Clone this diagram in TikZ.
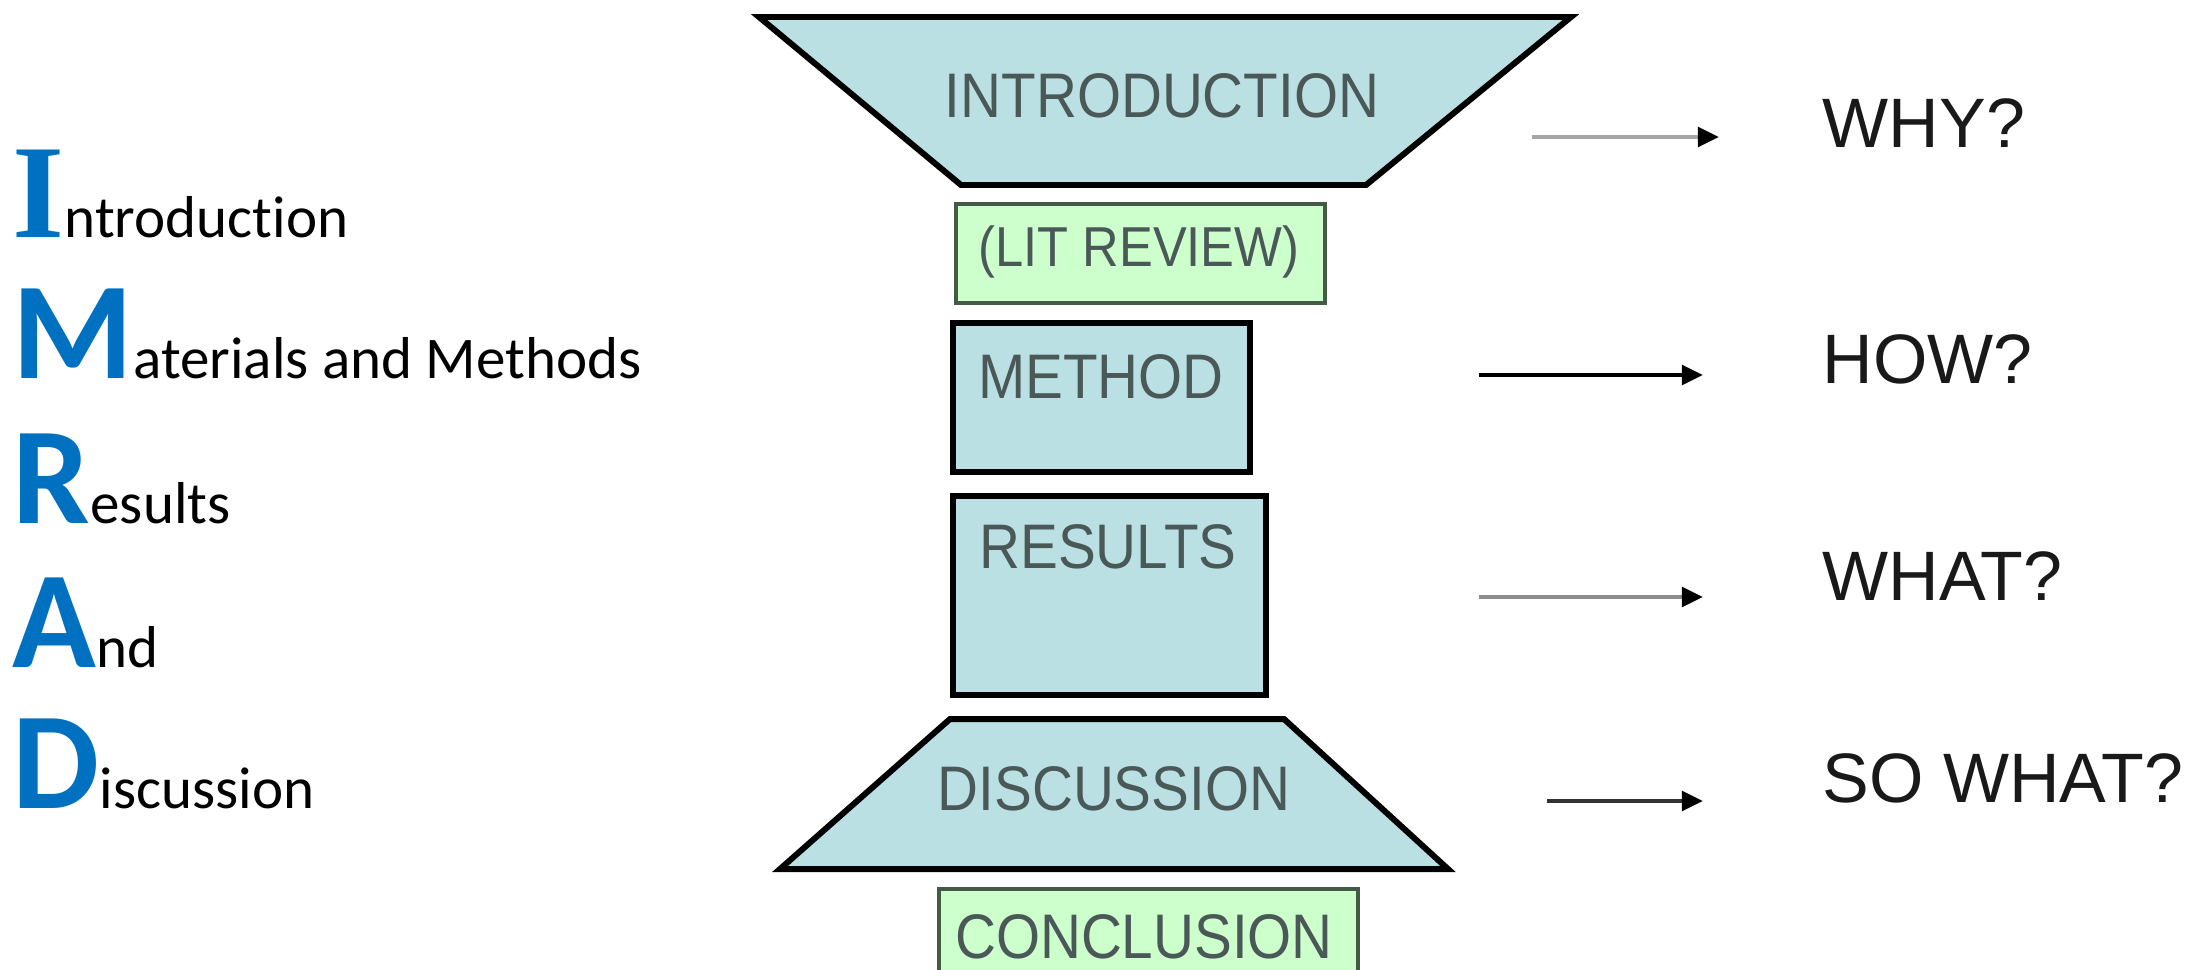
\documentclass[tikz,border=0pt]{standalone}
\usepackage{fontspec}
\setmainfont{Liberation Sans}
\newfontfamily\boxfont[FakeStretch=0.9]{Liberation Sans}
\newfontfamily\listfont[Ligatures=NoCommon]{Carlito}
\newfontfamily\listserif{Liberation Serif}
\usetikzlibrary{arrows.meta, positioning}

\definecolor{imradblue}{HTML}{0070C0}
\definecolor{funnelfill}{HTML}{BBE0E3}
\definecolor{greenfill}{HTML}{CCFFCC}
\definecolor{greenedge}{HTML}{445A44}
\definecolor{labelgray}{HTML}{4A5858}

% big blue initial of each IMRAD word
\newcommand{\leadletter}[1]{{\color{imradblue}\listfont\bfseries\fontsize{39.3pt}{40pt}\selectfont #1}}
\newcommand{\leadserif}[1]{{\color{imradblue}\listserif\bfseries\fontsize{38pt}{40pt}\selectfont #1}}

\begin{document}
\begin{tikzpicture}[
    x=0.01cm, y=-0.01cm,
    funnel/.style={draw=black, fill=funnelfill, line width=1.7pt},
    bluebox/.style={draw=black, fill=funnelfill, line width=1.85pt, inner sep=0pt},
    greenbox/.style={draw=greenedge, fill=greenfill, line width=1.1pt, inner sep=0pt},
    boxtext/.style={font=\boxfont\fontsize{17.9pt}{20pt}\selectfont, text=labelgray, inner sep=0pt, anchor=base},
    question/.style={font=\fontsize{19.9pt}{24pt}\selectfont, text=black!90, inner sep=0pt, anchor=base west},
    imrad/.style={font=\listfont\fontsize{16.8pt}{20pt}\selectfont, text=black, inner sep=0pt, anchor=base west},
    arr/.style={line width=1.3pt, -{Triangle[length=6pt, width=5.5pt, color=black]}}
]
    \clip (0,0) rectangle (2210,969);

    % LEFT: IMRAD acronym
    \node[imrad] (lintro) at (12,237) {\leadserif{I}ntroduction};
    \node[imrad] (lmat) at (12,378) {\leadletter{M}aterials and Methods};
    \node[imrad] (lres) at (12,523) {\leadletter{R}esults};
    \node[imrad] (land) at (12,667) {\leadletter{A}nd};
    \node[imrad] (ldisc) at (12,808) {\leadletter{D}iscussion};

    % CENTRE: hourglass of sections
    \draw[funnel] (759,17) -- (1571,17) -- (1366,185) -- (961,185) -- cycle;
    \node[boxtext] (intro) at (1162,117) {INTRODUCTION};

    \node[greenbox, minimum width=3.69cm, minimum height=0.99cm] (litreview) at (1140.5,253.5) {};
    \node[boxtext, font=\boxfont\fontsize{16pt}{18pt}\selectfont] (littxt) at (1139,266) {(LIT REVIEW)};

    \node[bluebox, minimum width=2.97cm, minimum height=1.49cm] (method) at (1101.5,397.5) {};
    \node[boxtext] (methodtxt) at (1101,398) {METHOD};

    \node[bluebox, minimum width=3.13cm, minimum height=1.99cm] (results) at (1109.5,595.5) {};
    \node[boxtext] (resultstxt) at (1108,568) {RESULTS};

    \draw[funnel] (950,719) -- (1284,719) -- (1448,869) -- (780,869) -- cycle;
    \node[boxtext] (discussion) at (1114,810) {DISCUSSION};

    \node[greenbox, minimum width=4.19cm, minimum height=1.11cm] (conclusion) at (1148.5,944.5) {};
    \node[boxtext] (conctxt) at (1144,958) {CONCLUSION};

    % RIGHT: questions each part answers
    \coordinate (whyA) at (1532,137);  \coordinate (whyB) at (1719,137);
    \coordinate (howA) at (1479,375);  \coordinate (howB) at (1703,375);
    \coordinate (whatA) at (1479,597); \coordinate (whatB) at (1703,597);
    \coordinate (sowA) at (1547,801);  \coordinate (sowB) at (1703,801);

    \draw[arr, black!35] (whyA) -- (whyB);
    \draw[arr, black] (howA) -- (howB);
    \draw[arr, black!45] (whatA) -- (whatB);
    \draw[arr, black!80] (sowA) -- (sowB);

    \node[question] (why) at (1822,147) {WHY?};
    \node[question] (how) at (1822,383) {HOW?};
    \node[question] (what) at (1822,600) {WHAT?};
    \node[question] (sowhat) at (1822,802) {SO WHAT?};

\end{tikzpicture}
\end{document}
